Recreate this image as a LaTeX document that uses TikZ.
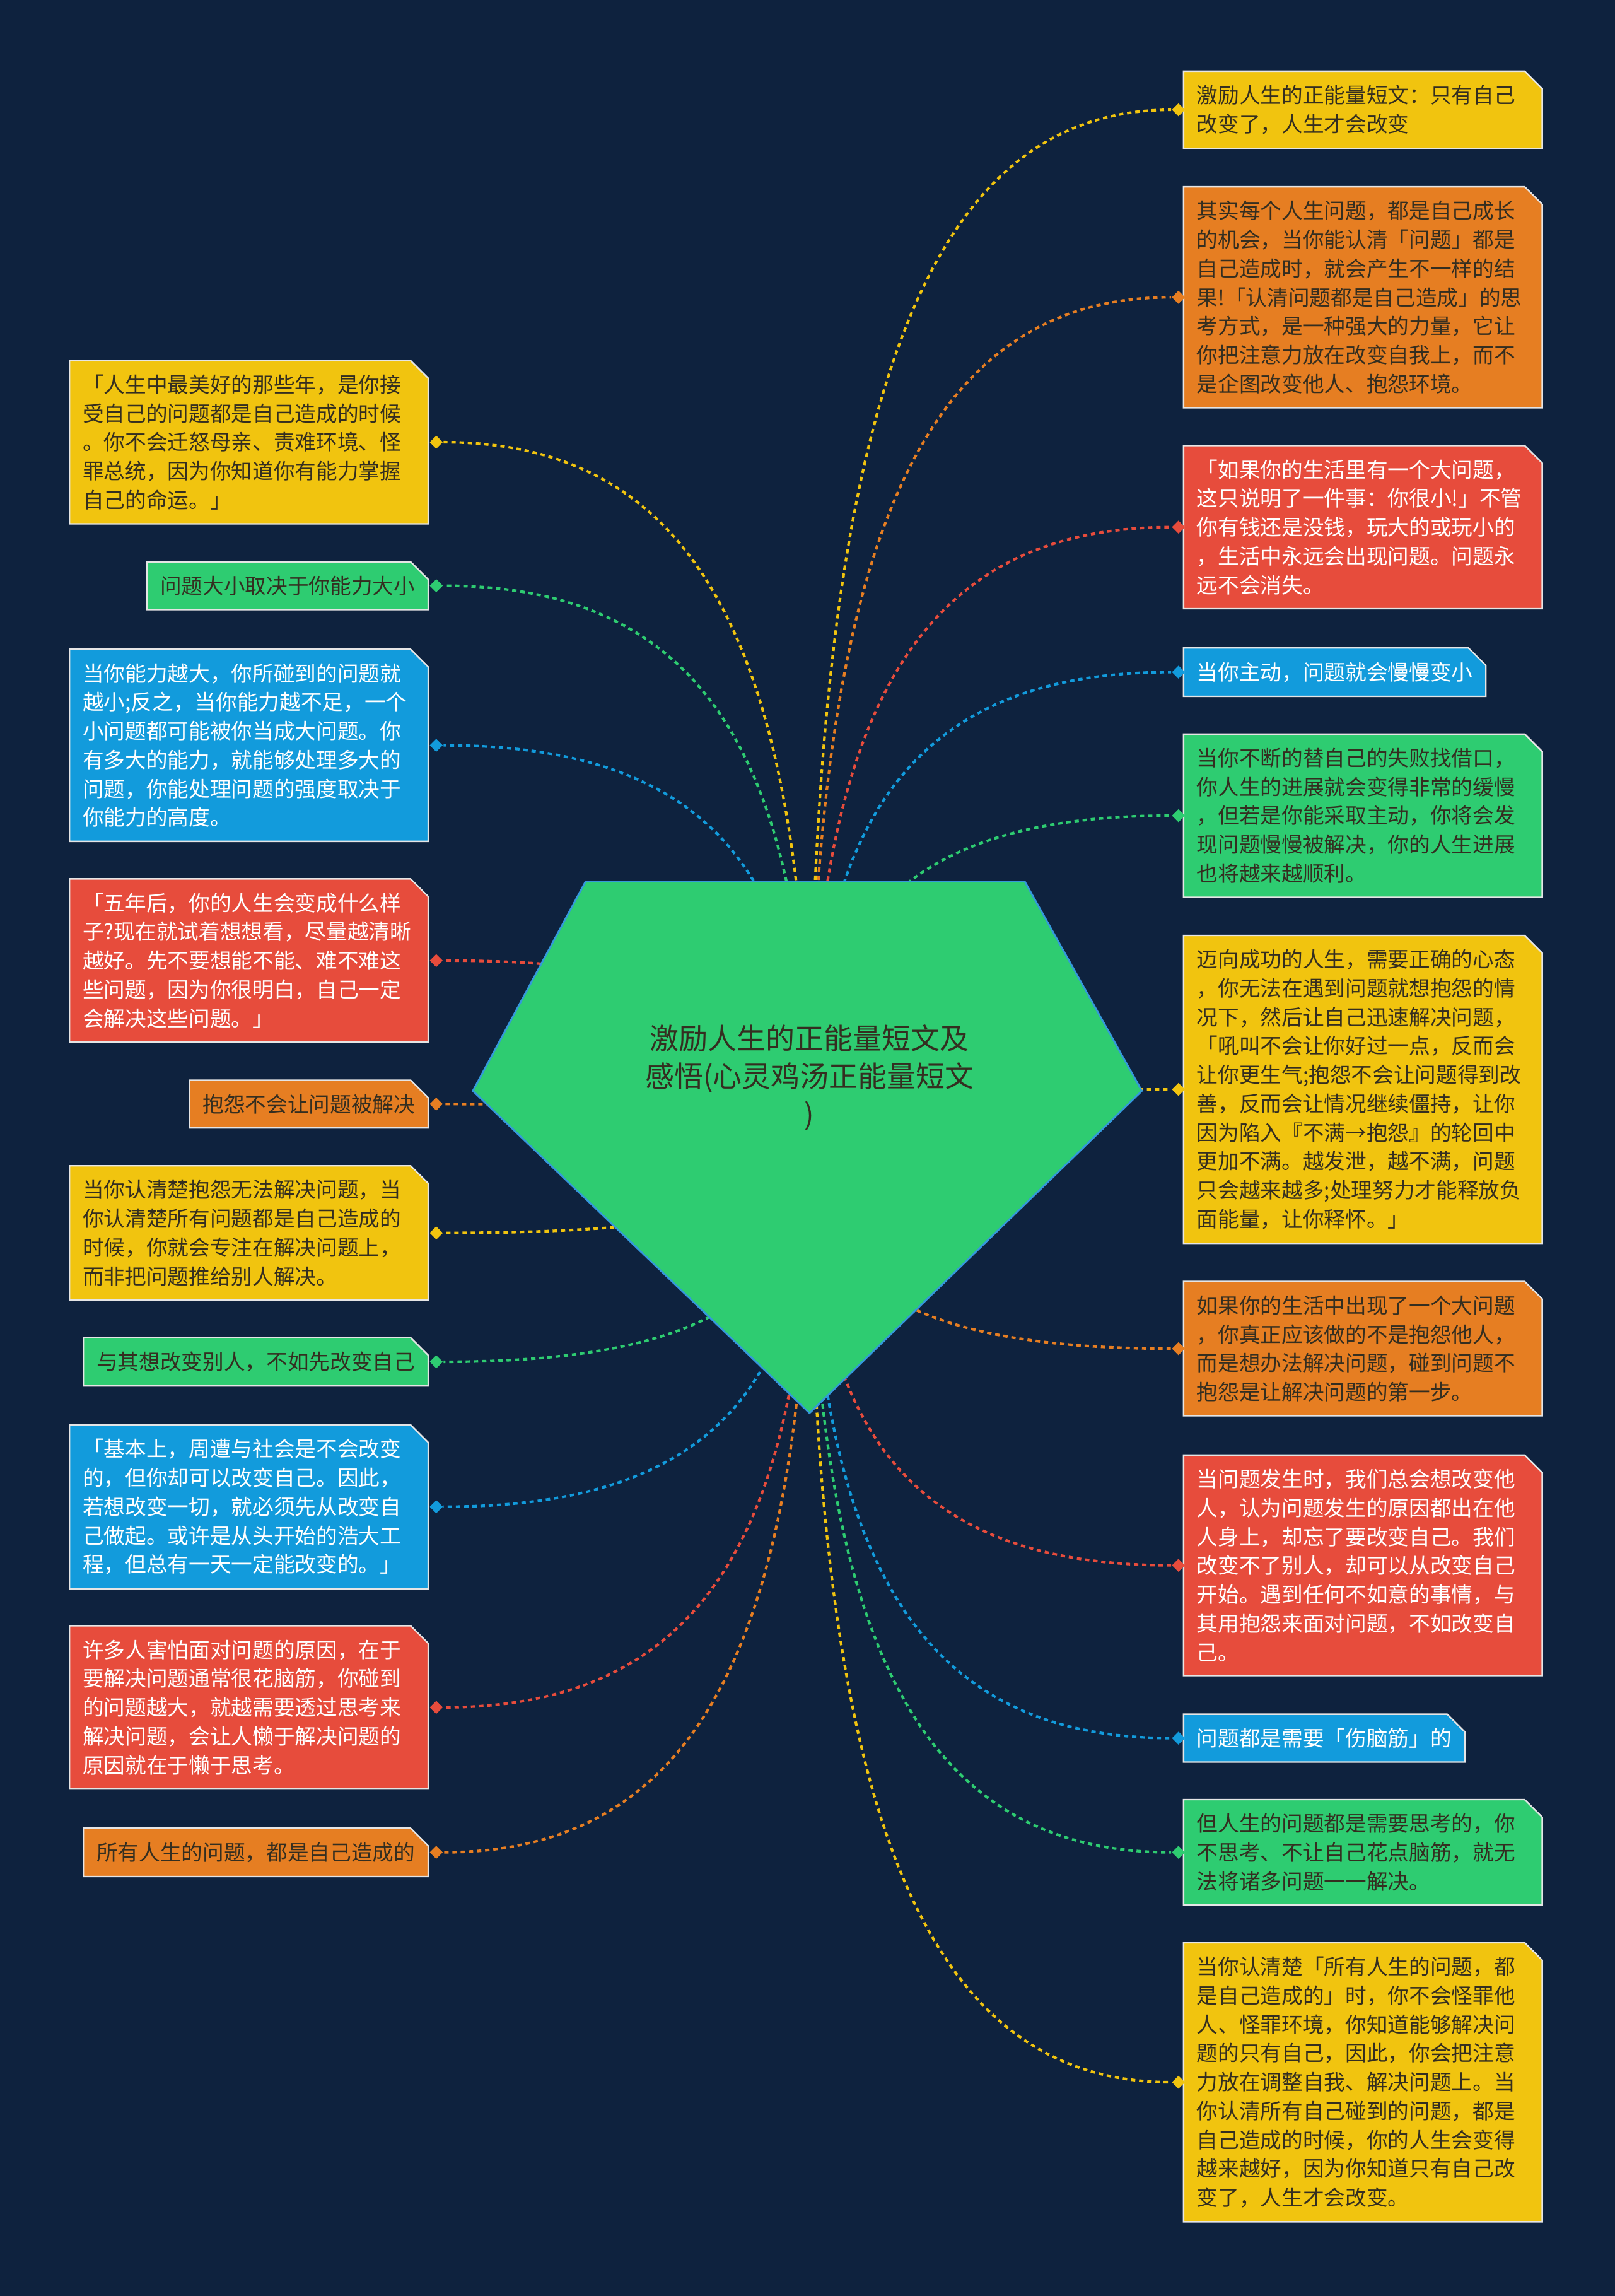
\documentclass[tikz,border=0pt]{standalone}
\usepackage{fontspec}
\setmainfont{Noto Sans CJK SC}
\usepackage{tikz}
\usetikzlibrary{positioning,shapes.misc,shapes.geometric,calc}
\definecolor{bgnavy}{RGB}{14,34,62}
\definecolor{myyellow}{RGB}{241,196,15}
\definecolor{myorange}{RGB}{230,126,34}
\definecolor{myred}{RGB}{231,76,60}
\definecolor{myblue}{RGB}{18,155,220}
\definecolor{mygreen}{RGB}{46,204,113}
\definecolor{darktext}{RGB}{52,46,32}
\definecolor{gemedge}{RGB}{52,152,219}

\begin{document}
\begin{tikzpicture}[
x=0.5pt,y=-0.5pt,
leaf/.style={
chamfered rectangle,
chamfered rectangle corners=north east,
chamfered rectangle xsep=3pt,
chamfered rectangle ysep=3pt,
draw=white!80!gray,
line width=0.5pt,
inner xsep=1.5pt,
inner ysep=1.8pt,
align=left,
font=\fontsize{7.25}{9.85}\selectfont
},
longleaf/.style={leaf,text width=113.5pt},
dot/.style={diamond,inner sep=0pt,minimum width=4.6pt,minimum height=4.6pt},
link/.style={
line width=0.9pt,
dash pattern=on 1.5pt off 1.3pt,
to path={.. controls ($(\tikztostart)!0.7!(\tikztostart|-\tikztotarget)$)
and ($(\tikztostart|-\tikztotarget)!0.3!(\tikztotarget)$) .. (\tikztotarget)}
}
]

\fill[bgnavy] (0,0) rectangle (1103,1568);
\useasboundingbox (0,0) rectangle (1103,1568);

\coordinate (c) at (553,780);

%---------------- Left ----------------%

\node[longleaf,fill=myyellow,text=darktext,anchor=east] (l1) at (293,302)
{「人生中最美好的那些年，是你接\\受自己的问题都是自己造成的时候\\。你不会迁怒母亲、责难环境、怪\\罪总统，因为你知道你有能力掌握\\自己的命运。」};

\node[leaf,fill=mygreen,text=darktext,anchor=east] (l2) at (293,400)
{问题大小取决于你能力大小};

\node[longleaf,fill=myblue,text=white,anchor=east] (l3) at (293,509)
{当你能力越大，你所碰到的问题就\\越小;反之，当你能力越不足，一个\\小问题都可能被你当成大问题。你\\有多大的能力，就能够处理多大的\\问题，你能处理问题的强度取决于\\你能力的高度。};

\node[longleaf,fill=myred,text=white,anchor=east] (l4) at (293,656)
{「五年后，你的人生会变成什么样\\子?现在就试着想想看，尽量越清晰\\越好。先不要想能不能、难不难这\\些问题，因为你很明白，自己一定\\会解决这些问题。」};

\node[leaf,fill=myorange,text=darktext,anchor=east] (l5) at (293,754)
{抱怨不会让问题被解决};

\node[longleaf,fill=myyellow,text=darktext,anchor=east] (l6) at (293,842)
{当你认清楚抱怨无法解决问题，当\\你认清楚所有问题都是自己造成的\\时候，你就会专注在解决问题上，\\而非把问题推给别人解决。};

\node[leaf,fill=mygreen,text=darktext,anchor=east] (l7) at (293,930)
{与其想改变别人，不如先改变自己};

\node[longleaf,fill=myblue,text=white,anchor=east] (l8) at (293,1029)
{「基本上，周遭与社会是不会改变\\的，但你却可以改变自己。因此，\\若想改变一切，就必须先从改变自\\己做起。或许是从头开始的浩大工\\程，但总有一天一定能改变的。」};

\node[longleaf,fill=myred,text=white,anchor=east] (l9) at (293,1166)
{许多人害怕面对问题的原因，在于\\要解决问题通常很花脑筋，你碰到\\的问题越大，就越需要透过思考来\\解决问题，会让人懒于解决问题的\\原因就在于懒于思考。};

\node[leaf,fill=myorange,text=darktext,anchor=east] (l10) at (293,1265)
{所有人生的问题，都是自己造成的};

%---------------- Right ----------------%

\node[longleaf,fill=myyellow,text=darktext,anchor=west] (r1) at (808,75)
{激励人生的正能量短文：只有自己\\改变了，人生才会改变};

\node[longleaf,fill=myorange,text=darktext,anchor=west] (r2) at (808,203)
{其实每个人生问题，都是自己成长\\的机会，当你能认清「问题」都是\\自己造成时，就会产生不一样的结\\果!「认清问题都是自己造成」的思\\考方式，是一种强大的力量，它让\\你把注意力放在改变自我上，而不\\是企图改变他人、抱怨环境。};

\node[longleaf,fill=myred,text=white,anchor=west] (r3) at (808,360)
{「如果你的生活里有一个大问题，\\这只说明了一件事：你很小!」不管\\你有钱还是没钱，玩大的或玩小的\\，生活中永远会出现问题。问题永\\远不会消失。};

\node[leaf,fill=myblue,text=white,anchor=west] (r4) at (808,459)
{当你主动，问题就会慢慢变小};

\node[longleaf,fill=mygreen,text=darktext,anchor=west] (r5) at (808,557)
{当你不断的替自己的失败找借口，\\你人生的进展就会变得非常的缓慢\\，但若是你能采取主动，你将会发\\现问题慢慢被解决，你的人生进展\\也将越来越顺利。};

\node[longleaf,fill=myyellow,text=darktext,anchor=west] (r6) at (808,744)
{迈向成功的人生，需要正确的心态\\，你无法在遇到问题就想抱怨的情\\况下，然后让自己迅速解决问题，\\「吼叫不会让你好过一点，反而会\\让你更生气;抱怨不会让问题得到改\\善，反而会让情况继续僵持，让你\\因为陷入『不满→抱怨』的轮回中\\更加不满。越发泄，越不满，问题\\只会越来越多;处理努力才能释放负\\面能量，让你释怀。」};

\node[longleaf,fill=myorange,text=darktext,anchor=west] (r7) at (808,921)
{如果你的生活中出现了一个大问题\\，你真正应该做的不是抱怨他人，\\而是想办法解决问题，碰到问题不\\抱怨是让解决问题的第一步。};

\node[longleaf,fill=myred,text=white,anchor=west] (r8) at (808,1069)
{当问题发生时，我们总会想改变他\\人，认为问题发生的原因都出在他\\人身上，却忘了要改变自己。我们\\改变不了别人，却可以从改变自己\\开始。遇到任何不如意的事情，与\\其用抱怨来面对问题，不如改变自\\己。};

\node[leaf,fill=myblue,text=white,anchor=west] (r9) at (808,1187)
{问题都是需要「伤脑筋」的};

\node[longleaf,fill=mygreen,text=darktext,anchor=west] (r10) at (808,1265)
{但人生的问题都是需要思考的，你\\不思考、不让自己花点脑筋，就无\\法将诸多问题一一解决。};

\node[longleaf,fill=myyellow,text=darktext,anchor=west] (r11) at (808,1422)
{当你认清楚「所有人生的问题，都\\是自己造成的」时，你不会怪罪他\\人、怪罪环境，你知道能够解决问\\题的只有自己，因此，你会把注意\\力放在调整自我、解决问题上。当\\你认清所有自己碰到的问题，都是\\自己造成的时候，你的人生会变得\\越来越好，因为你知道只有自己改\\变了，人生才会改变。};

%---------------- Diamonds ----------------%

\node[dot,fill=myyellow] (l1d) at ([xshift=2.5pt]l1.east) {};
\node[dot,fill=mygreen] (l2d) at ([xshift=2.5pt]l2.east) {};
\node[dot,fill=myblue] (l3d) at ([xshift=2.5pt]l3.east) {};
\node[dot,fill=myred] (l4d) at ([xshift=2.5pt]l4.east) {};
\node[dot,fill=myorange] (l5d) at ([xshift=2.5pt]l5.east) {};
\node[dot,fill=myyellow] (l6d) at ([xshift=2.5pt]l6.east) {};
\node[dot,fill=mygreen] (l7d) at ([xshift=2.5pt]l7.east) {};
\node[dot,fill=myblue] (l8d) at ([xshift=2.5pt]l8.east) {};
\node[dot,fill=myred] (l9d) at ([xshift=2.5pt]l9.east) {};
\node[dot,fill=myorange] (l10d) at ([xshift=2.5pt]l10.east) {};

\node[dot,fill=myyellow] (r1d) at ([xshift=-1.5pt]r1.west) {};
\node[dot,fill=myorange] (r2d) at ([xshift=-1.5pt]r2.west) {};
\node[dot,fill=myred] (r3d) at ([xshift=-1.5pt]r3.west) {};
\node[dot,fill=myblue] (r4d) at ([xshift=-1.5pt]r4.west) {};
\node[dot,fill=mygreen] (r5d) at ([xshift=-1.5pt]r5.west) {};
\node[dot,fill=myyellow] (r6d) at ([xshift=-1.5pt]r6.west) {};
\node[dot,fill=myorange] (r7d) at ([xshift=-1.5pt]r7.west) {};
\node[dot,fill=myred] (r8d) at ([xshift=-1.5pt]r8.west) {};
\node[dot,fill=myblue] (r9d) at ([xshift=-1.5pt]r9.west) {};
\node[dot,fill=mygreen] (r10d) at ([xshift=-1.5pt]r10.west) {};
\node[dot,fill=myyellow] (r11d) at ([xshift=-1.5pt]r11.west) {};

%---------------- Connections ----------------%

\draw[link,myyellow] (c) to (l1d.east);
\draw[link,mygreen] (c) to (l2d.east);
\draw[link,myblue] (c) to (l3d.east);
\draw[link,myred] (c) to (l4d.east);
\draw[link,myorange] (c) to (l5d.east);
\draw[link,myyellow] (c) to (l6d.east);
\draw[link,mygreen] (c) to (l7d.east);
\draw[link,myblue] (c) to (l8d.east);
\draw[link,myred] (c) to (l9d.east);
\draw[link,myorange] (c) to (l10d.east);

\draw[link,myyellow] (c) to (r1d.west);
\draw[link,myorange] (c) to (r2d.west);
\draw[link,myred] (c) to (r3d.west);
\draw[link,myblue] (c) to (r4d.west);
\draw[link,mygreen] (c) to (r5d.west);
\draw[link,myyellow] (c) to (r6d.west);
\draw[link,myorange] (c) to (r7d.west);
\draw[link,myred] (c) to (r8d.west);
\draw[link,myblue] (c) to (r9d.west);
\draw[link,mygreen] (c) to (r10d.west);
\draw[link,myyellow] (c) to (r11d.west);

%---------------- Centre ----------------%

\draw[fill=mygreen,draw=gemedge,line width=0.6pt]
(400,602) -- (700,602) -- (780,745) -- (553,965) -- (323,745) -- cycle;

\node[text=darktext,align=center,font=\fontsize{9.9}{13}\selectfont] (topic) at (553,736)
{激励人生的正能量短文及\\感悟(心灵鸡汤正能量短文\\)};

\end{tikzpicture}
\end{document}
